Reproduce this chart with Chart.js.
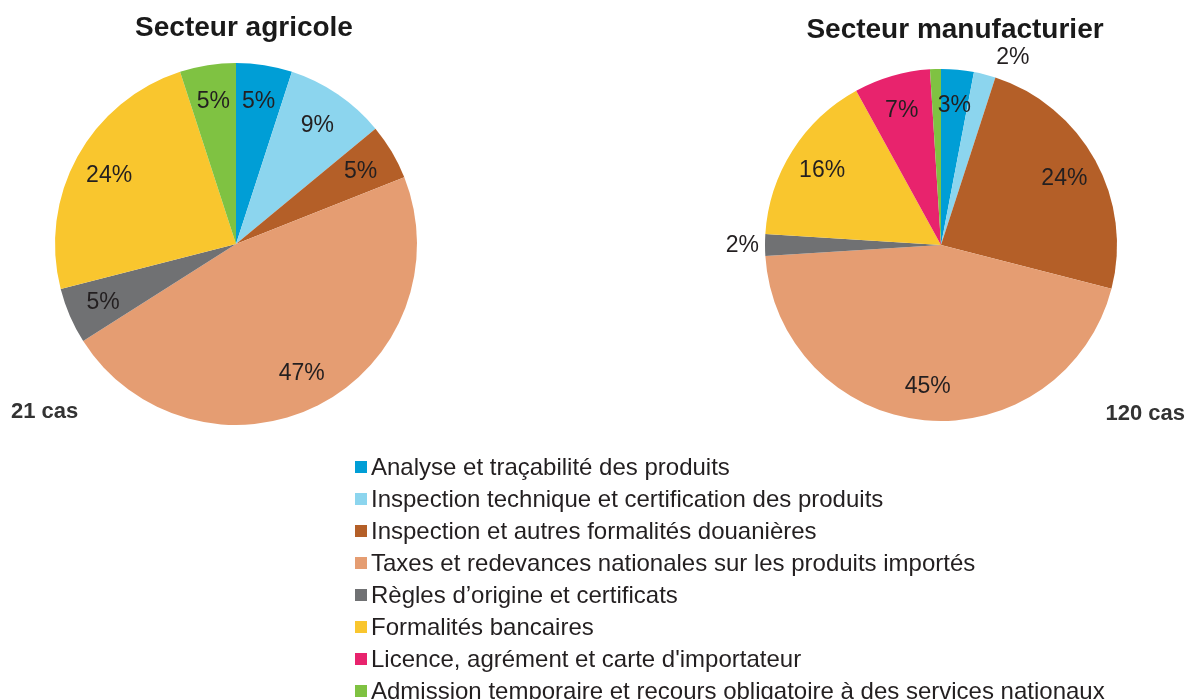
<!DOCTYPE html>
<html>
<head>
<meta charset="utf-8">
<script src="https://cdn.jsdelivr.net/npm/chart.js@4.4.0/dist/chart.umd.min.js"></script>
<style>
  body { margin: 0; width: 1189px; height: 699px; overflow: hidden; background: #fff; font-family: "Liberation Sans", Arial, sans-serif; }
  .box { position: absolute; top: 0; height: 699px; }
  #legend { position: absolute; left: 355px; top: 451px; color: #231f20; font-size: 24px; }
  #legend .row { display: flex; align-items: center; height: 32px; white-space: nowrap; }
  #legend .sw { width: 12px; height: 12px; margin-right: 4px; }
</style>
</head>
<body>
<div class="box" style="left:0;width:590px"><canvas id="agriChart"></canvas></div>
<div class="box" style="left:590px;width:599px"><canvas id="manuChart"></canvas></div>
<div id="legend"></div>
<script>
// categories and colours
const categories = [
  'Analyse et traçabilité des produits',
  'Inspection technique et certification des produits',
  'Inspection et autres formalités douanières',
  'Taxes et redevances nationales sur les produits importés',
  'Règles d\u2019origine et certificats',
  'Formalités bancaires',
  'Licence, agrément et carte d\'importateur',
  'Admission temporaire et recours obligatoire à des services nationaux'
];
const colors = ['#009ed6', '#8cd5ee', '#b45f28', '#e59d72', '#707173', '#f9c62e', '#e8236d', '#7fc242'];

// shares in percent
const agriValues = [5, 9, 5, 47, 5, 24, 0, 5];
const manuValues = [3, 2, 24, 45, 2, 16, 7, 1];

const agriTitle = 'Secteur agricole';
const manuTitle = 'Secteur manufacturier';
const agriCases = '21 cas';
const manuCases = '120 cas';

// percent labels + titles drawn on the canvas
const decor = {
  id: 'decor',
  afterDatasetsDraw(chart, args, opts) {
    const ctx = chart.ctx;
    const meta = chart.getDatasetMeta(0);
    const values = chart.data.datasets[0].data;
    ctx.save();
    ctx.fillStyle = '#231f20';
    ctx.font = '23px "Liberation Sans", Arial, sans-serif';
    ctx.textBaseline = 'middle';
    ctx.textAlign = 'center';
    meta.data.forEach((arc, i) => {
      const v = values[i];
      if (v < 1.5) return;
      const mid = (arc.startAngle + arc.endAngle) / 2;
      const cx = Math.cos(mid), cy = Math.sin(mid);
      const txt = v + '%';
      if (v < 2.5) {
        // small slice: label outside the pie
        const w = ctx.measureText(txt).width;
        const r = arc.outerRadius + 6;
        let px = arc.x + cx * r, py = arc.y + cy * r;
        if (Math.abs(cy) > 0.5) {
          px += Math.sign(cx) * w * 0.8;
          py += Math.sign(cy) * 12;
        } else {
          px += Math.sign(cx) * w / 2;
        }
        ctx.fillText(txt, px, py + 1);
      } else {
        const r = arc.outerRadius * opts.labelRadius;
        ctx.fillText(txt, arc.x + cx * r, arc.y + cy * r + 1);
      }
    });
    ctx.fillStyle = '#1a1a1a';
    ctx.font = 'bold 28px "Liberation Sans", Arial, sans-serif';
    ctx.fillText(opts.title, opts.titleX, opts.titleY);
    ctx.fillStyle = '#333333';
    ctx.font = 'bold 22px "Liberation Sans", Arial, sans-serif';
    ctx.textAlign = opts.noteAlign;
    ctx.fillText(opts.note, opts.noteX, opts.noteY);
    ctx.restore();
  }
};

const makePie = (canvasId, values, padding, decorOpts) => {
  return new Chart(document.getElementById(canvasId), {
    type: 'pie',
    data: {
      labels: categories,
      datasets: [{
        data: values,
        backgroundColor: colors,
        borderWidth: 0
      }]
    },
    options: {
      responsive: true,
      maintainAspectRatio: false,
      animation: false,
      layout: { padding: padding },
      plugins: {
        legend: { display: false },
        tooltip: { enabled: false },
        decor: decorOpts
      }
    },
    plugins: [decor]
  });
};

makePie('agriChart', agriValues,
  { left: 55, right: 173, top: 63, bottom: 274 },
  { labelRadius: 0.8, title: agriTitle, titleX: 244, titleY: 28, note: agriCases, noteAlign: 'left', noteX: 11, noteY: 412 });

makePie('manuChart', manuValues,
  { left: 175, right: 72, top: 69, bottom: 278 },
  { labelRadius: 0.8, title: manuTitle, titleX: 365, titleY: 30, note: manuCases, noteAlign: 'right', noteX: 595, noteY: 414 });

// legend
const legend = document.getElementById('legend');
categories.forEach((name, i) => {
  const row = document.createElement('div');
  row.className = 'row';
  const sw = document.createElement('span');
  sw.className = 'sw';
  sw.style.background = colors[i];
  const label = document.createElement('span');
  label.textContent = name;
  row.appendChild(sw);
  row.appendChild(label);
  legend.appendChild(row);
});
</script>
</body>
</html>
